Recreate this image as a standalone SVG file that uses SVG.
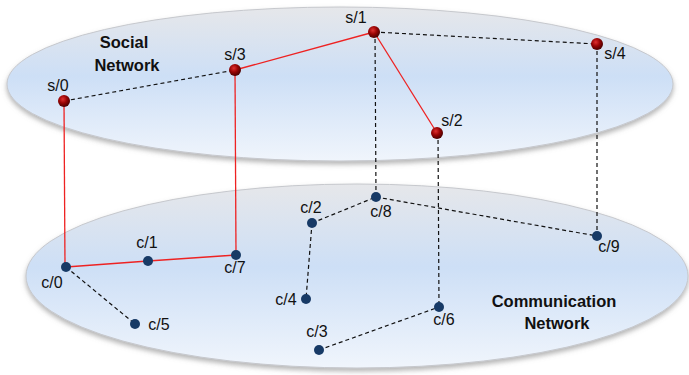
<svg xmlns="http://www.w3.org/2000/svg" width="689" height="375" viewBox="0 0 689 375">
<style>
.plane{stroke:#c6c8cd;stroke-width:1;filter:url(#sh)}
.red{stroke:#ee2222;stroke-width:1.3;fill:none}
.dash{stroke:#111;stroke-width:1.2;stroke-dasharray:4 3;fill:none}
.lbl{font-family:"Liberation Sans",Arial,sans-serif;font-size:16px;fill:#111;text-anchor:middle}
.title{font-family:"Liberation Sans",Arial,sans-serif;font-size:16.5px;font-weight:bold;fill:#111;text-anchor:middle}
.s{fill:url(#sg)}
.c{fill:#173a66}
</style>
<defs>
<linearGradient id="pg" x1="0" y1="0" x2="0" y2="1">
<stop offset="0" stop-color="#e6e7ea"/>
<stop offset="0.45" stop-color="#cddff6"/>
<stop offset="1" stop-color="#f0f5fc"/>
</linearGradient>
<radialGradient id="sg" cx="0.4" cy="0.35" r="0.65">
<stop offset="0" stop-color="#e03030"/>
<stop offset="0.5" stop-color="#9a0505"/>
<stop offset="1" stop-color="#4a0000"/>
</radialGradient>
<filter id="sh" x="-5%" y="-10%" width="110%" height="125%">
<feDropShadow dx="0" dy="3" stdDeviation="2.5" flood-color="#777" flood-opacity="0.55"/>
</filter>
</defs>
<g id="planes">
<ellipse class="plane" cx="340" cy="84" rx="333" ry="77" fill="url(#pg)"/>
<ellipse class="plane" cx="357" cy="276" rx="331" ry="92" fill="url(#pg)"/>
<text class="title" x="124" y="48">Social</text>
<text class="title" x="127" y="71">Network</text>
<text class="title" x="554" y="307">Communication</text>
<text class="title" x="557" y="329">Network</text>
</g>
<g id="connectors">
<line class="red" x1="235" y1="70" x2="374" y2="32"/>
<line class="red" x1="374" y1="32" x2="437" y2="133"/>
<line class="red" x1="64" y1="101" x2="65" y2="267"/>
<line class="red" x1="235" y1="70" x2="236" y2="255"/>
<line class="red" x1="66" y1="267" x2="148" y2="261"/>
<line class="red" x1="148" y1="261" x2="236" y2="255"/>
<line class="dash" x1="64" y1="101" x2="235" y2="70"/>
<line class="dash" x1="374" y1="32" x2="597" y2="44"/>
<line class="dash" x1="375" y1="32" x2="376" y2="197"/>
<line class="dash" x1="438" y1="133" x2="439" y2="307"/>
<line class="dash" x1="597" y1="44" x2="597" y2="236"/>
<line class="dash" x1="312" y1="223" x2="376" y2="197"/>
<line class="dash" x1="312" y1="223" x2="306" y2="299"/>
<line class="dash" x1="376" y1="197" x2="597" y2="236"/>
<line class="dash" x1="66" y1="267" x2="135" y2="324"/>
<line class="dash" x1="319" y1="350" x2="439" y2="307"/>
</g>
<g id="s0"><circle class="s" cx="64" cy="101" r="6"/><text class="lbl" x="58" y="91">s/0</text></g>
<g id="s1"><circle class="s" cx="374" cy="32" r="6"/><text class="lbl" x="356" y="23">s/1</text></g>
<g id="s2"><circle class="s" cx="437" cy="133" r="6"/><text class="lbl" x="452" y="126">s/2</text></g>
<g id="s3"><circle class="s" cx="235" cy="70" r="6"/><text class="lbl" x="235" y="60">s/3</text></g>
<g id="s4"><circle class="s" cx="597" cy="44" r="6"/><text class="lbl" x="615" y="59">s/4</text></g>
<g id="c0"><circle class="c" cx="66" cy="267" r="5"/><text class="lbl" x="52" y="288">c/0</text></g>
<g id="c1"><circle class="c" cx="148" cy="261" r="5"/><text class="lbl" x="147" y="248">c/1</text></g>
<g id="c2"><circle class="c" cx="312" cy="223" r="5"/><text class="lbl" x="311" y="213">c/2</text></g>
<g id="c3"><circle class="c" cx="319" cy="350" r="5"/><text class="lbl" x="317" y="337">c/3</text></g>
<g id="c4"><circle class="c" cx="306" cy="299" r="5"/><text class="lbl" x="286" y="305">c/4</text></g>
<g id="c5"><circle class="c" cx="135" cy="324" r="5"/><text class="lbl" x="159" y="330">c/5</text></g>
<g id="c6"><circle class="c" cx="439" cy="307" r="5"/><text class="lbl" x="444" y="325">c/6</text></g>
<g id="c7"><circle class="c" cx="236" cy="255" r="5"/><text class="lbl" x="235" y="273">c/7</text></g>
<g id="c8"><circle class="c" cx="376" cy="197" r="5"/><text class="lbl" x="381" y="217">c/8</text></g>
<g id="c9"><circle class="c" cx="597" cy="236" r="5"/><text class="lbl" x="609" y="252">c/9</text></g>
</svg>
